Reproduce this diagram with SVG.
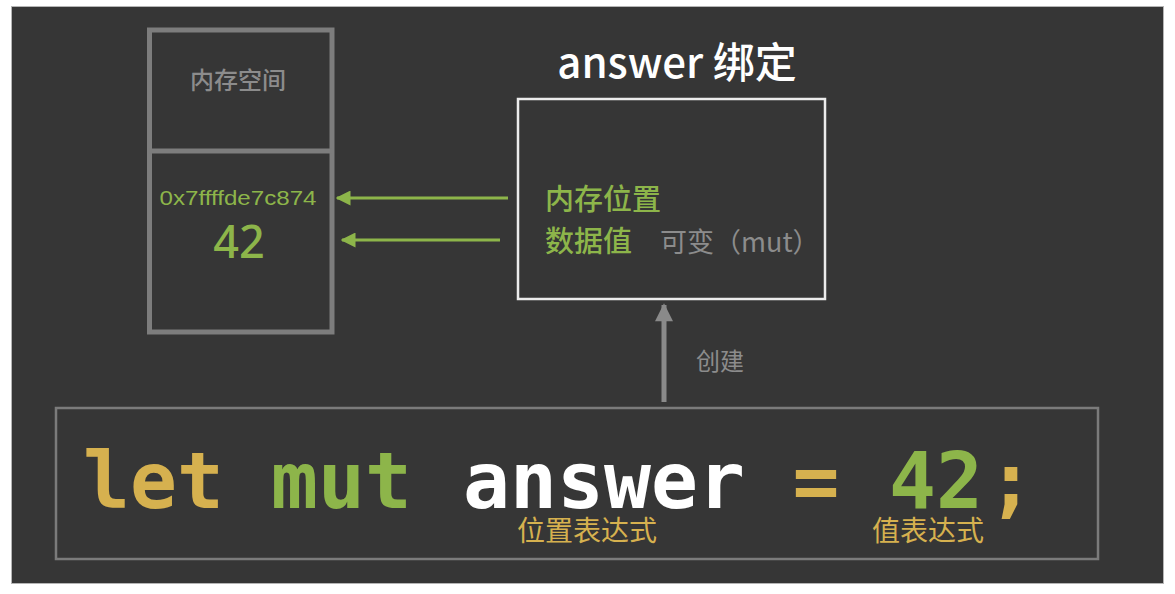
<svg xmlns="http://www.w3.org/2000/svg" width="1175" height="594" viewBox="0 0 1175 594">
<style>
.cjk{font-family:"Noto Sans CJK SC","Noto Sans",sans-serif}
.code{font-family:"DejaVu Sans Mono","Liberation Mono",monospace;font-weight:bold;font-size:78px;text-anchor:middle}
.gold{fill:#d6b14f}
.green{fill:#8db54a}
.gray{fill:#8c8c8c}
</style>
<defs>
<marker id="gh" viewBox="0 0 10 10" refX="9" refY="5" markerWidth="5" markerHeight="5" orient="auto" markerUnits="strokeWidth">
<path d="M0,0 L10,5 L0,10 z" fill="#8db54a"/>
</marker>
<marker id="grh" viewBox="0 0 10 10" refX="9" refY="5" markerWidth="4" markerHeight="3.6" orient="auto" markerUnits="strokeWidth">
<path d="M0,0 L10,5 L0,10 z" fill="#8a8a8a"/>
</marker>
</defs>
<rect x="0" y="0" width="1175" height="594" fill="#ffffff"/>
<rect x="11.5" y="6.5" width="1152" height="577" fill="#363636" stroke="#b5b5b5" stroke-width="1"/>

<g id="memory">
<rect x="149.5" y="30" width="182.5" height="302" fill="none" stroke="#7d7d7d" stroke-width="5"/>
<line x1="149.5" y1="151" x2="332" y2="151" stroke="#7d7d7d" stroke-width="5"/>
<text x="238" y="89" class="cjk gray" font-size="24" font-weight="500" text-anchor="middle">内存空间</text>
<text x="238" y="205" class="green" font-family="Liberation Sans, Arial, sans-serif" font-size="20" text-anchor="middle" textLength="157" lengthAdjust="spacingAndGlyphs">0x7ffffde7c874</text>
<text x="239" y="258" class="green" font-family="Noto Sans, Liberation Sans, sans-serif" font-size="45" font-weight="500" text-anchor="middle">42</text>
</g>

<g id="binding">
<text x="677" y="78" fill="#ffffff" class="cjk" font-size="42" font-weight="500" text-anchor="middle">answer 绑定</text>
<rect x="518" y="99" width="307" height="200" fill="none" stroke="#ececec" stroke-width="2.5"/>
<text x="545" y="210" class="cjk green" font-size="29" font-weight="500">内存位置</text>
<text x="545" y="252" class="cjk green" font-size="29" font-weight="500">数据值</text>
<text x="660" y="252" class="cjk gray" font-size="27">可变（mut）</text>
</g>

<g id="code">
<rect x="56" y="408" width="1042" height="151" fill="none" stroke="#7b7b7b" stroke-width="2.5"/>
<text x="153.5" y="508" class="code gold">let</text>
<text x="341.5" y="508" class="code green">mut</text>
<text x="604" y="508" class="code" fill="#ffffff">answer</text>
<text x="816" y="508" class="code gold">=</text>
<text x="936" y="508" class="code green">42</text>
<text x="1011" y="508" class="code gold">;</text>
<text x="587" y="541" class="cjk gold" font-size="28" text-anchor="middle">位置表达式</text>
<text x="928" y="541" class="cjk gold" font-size="28" text-anchor="middle">值表达式</text>
</g>

<g id="connectors">
<line x1="508" y1="198" x2="337" y2="198" stroke="#8db54a" stroke-width="3" marker-end="url(#gh)"/>
<line x1="500" y1="240" x2="342" y2="240" stroke="#8db54a" stroke-width="3" marker-end="url(#gh)"/>
<line x1="664" y1="402" x2="664" y2="305" stroke="#8a8a8a" stroke-width="5" marker-end="url(#grh)"/>
<text x="720" y="370" class="cjk gray" font-size="24" text-anchor="middle">创建</text>
</g>
</svg>
